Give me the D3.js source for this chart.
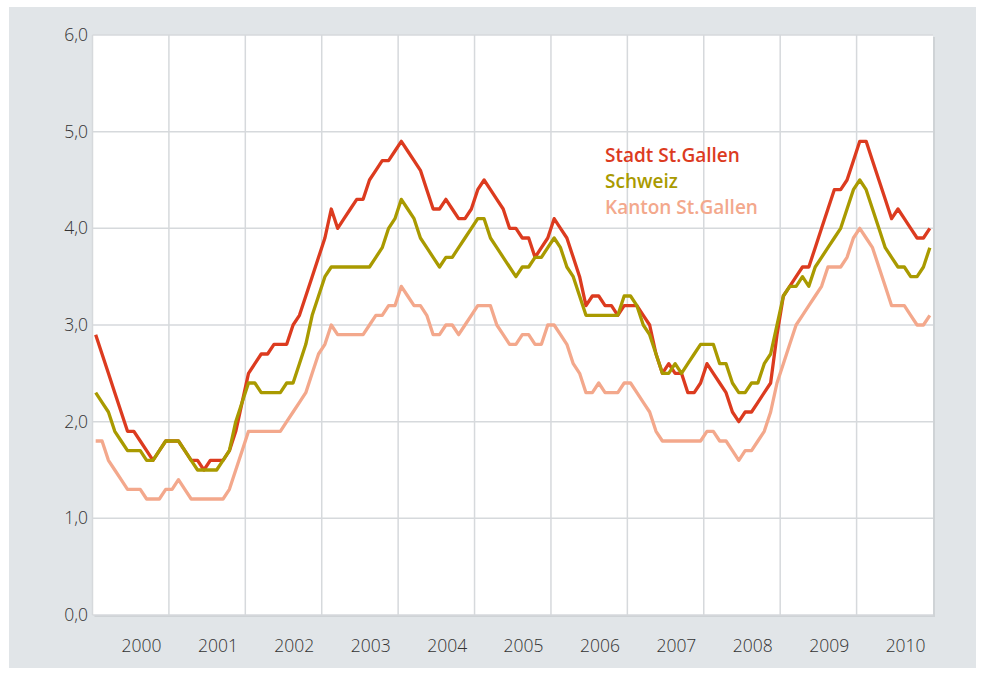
<!DOCTYPE html>
<html lang="de">
<head>
<meta charset="UTF-8">
<title>Arbeitslosenquote St.Gallen</title>
<script src="https://d3js.org/d3.v7.min.js"></script>
<style>
  body { margin: 0; background: #fff; }
  svg text { font-family: "Open Sans", "Noto Sans", sans-serif; }
</style>
</head>
<body>
<div id="chart"></div>
<script>
// Monthly values, January 2000 to December 2010
const years = [2000, 2001, 2002, 2003, 2004, 2005, 2006, 2007, 2008, 2009, 2010];

const stadt = [
  2.9, 2.7, 2.5, 2.3, 2.1, 1.9, 1.9, 1.8, 1.7, 1.6, 1.7, 1.8,
  1.8, 1.8, 1.7, 1.6, 1.6, 1.5, 1.6, 1.6, 1.6, 1.7, 1.9, 2.2,
  2.5, 2.6, 2.7, 2.7, 2.8, 2.8, 2.8, 3.0, 3.1, 3.3, 3.5, 3.7,
  3.9, 4.2, 4.0, 4.1, 4.2, 4.3, 4.3, 4.5, 4.6, 4.7, 4.7, 4.8,
  4.9, 4.8, 4.7, 4.6, 4.4, 4.2, 4.2, 4.3, 4.2, 4.1, 4.1, 4.2,
  4.4, 4.5, 4.4, 4.3, 4.2, 4.0, 4.0, 3.9, 3.9, 3.7, 3.8, 3.9,
  4.1, 4.0, 3.9, 3.7, 3.5, 3.2, 3.3, 3.3, 3.2, 3.2, 3.1, 3.2,
  3.2, 3.2, 3.1, 3.0, 2.7, 2.5, 2.6, 2.5, 2.5, 2.3, 2.3, 2.4,
  2.6, 2.5, 2.4, 2.3, 2.1, 2.0, 2.1, 2.1, 2.2, 2.3, 2.4, 2.9,
  3.3, 3.4, 3.5, 3.6, 3.6, 3.8, 4.0, 4.2, 4.4, 4.4, 4.5, 4.7,
  4.9, 4.9, 4.7, 4.5, 4.3, 4.1, 4.2, 4.1, 4.0, 3.9, 3.9, 4.0
];

const schweiz = [
  2.3, 2.2, 2.1, 1.9, 1.8, 1.7, 1.7, 1.7, 1.6, 1.6, 1.7, 1.8,
  1.8, 1.8, 1.7, 1.6, 1.5, 1.5, 1.5, 1.5, 1.6, 1.7, 2.0, 2.2,
  2.4, 2.4, 2.3, 2.3, 2.3, 2.3, 2.4, 2.4, 2.6, 2.8, 3.1, 3.3,
  3.5, 3.6, 3.6, 3.6, 3.6, 3.6, 3.6, 3.6, 3.7, 3.8, 4.0, 4.1,
  4.3, 4.2, 4.1, 3.9, 3.8, 3.7, 3.6, 3.7, 3.7, 3.8, 3.9, 4.0,
  4.1, 4.1, 3.9, 3.8, 3.7, 3.6, 3.5, 3.6, 3.6, 3.7, 3.7, 3.8,
  3.9, 3.8, 3.6, 3.5, 3.3, 3.1, 3.1, 3.1, 3.1, 3.1, 3.1, 3.3,
  3.3, 3.2, 3.0, 2.9, 2.7, 2.5, 2.5, 2.6, 2.5, 2.6, 2.7, 2.8,
  2.8, 2.8, 2.6, 2.6, 2.4, 2.3, 2.3, 2.4, 2.4, 2.6, 2.7, 3.0,
  3.3, 3.4, 3.4, 3.5, 3.4, 3.6, 3.7, 3.8, 3.9, 4.0, 4.2, 4.4,
  4.5, 4.4, 4.2, 4.0, 3.8, 3.7, 3.6, 3.6, 3.5, 3.5, 3.6, 3.8
];

const kanton = [
  1.8, 1.8, 1.6, 1.5, 1.4, 1.3, 1.3, 1.3, 1.2, 1.2, 1.2, 1.3,
  1.3, 1.4, 1.3, 1.2, 1.2, 1.2, 1.2, 1.2, 1.2, 1.3, 1.5, 1.7,
  1.9, 1.9, 1.9, 1.9, 1.9, 1.9, 2.0, 2.1, 2.2, 2.3, 2.5, 2.7,
  2.8, 3.0, 2.9, 2.9, 2.9, 2.9, 2.9, 3.0, 3.1, 3.1, 3.2, 3.2,
  3.4, 3.3, 3.2, 3.2, 3.1, 2.9, 2.9, 3.0, 3.0, 2.9, 3.0, 3.1,
  3.2, 3.2, 3.2, 3.0, 2.9, 2.8, 2.8, 2.9, 2.9, 2.8, 2.8, 3.0,
  3.0, 2.9, 2.8, 2.6, 2.5, 2.3, 2.3, 2.4, 2.3, 2.3, 2.3, 2.4,
  2.4, 2.3, 2.2, 2.1, 1.9, 1.8, 1.8, 1.8, 1.8, 1.8, 1.8, 1.8,
  1.9, 1.9, 1.8, 1.8, 1.7, 1.6, 1.7, 1.7, 1.8, 1.9, 2.1, 2.4,
  2.6, 2.8, 3.0, 3.1, 3.2, 3.3, 3.4, 3.6, 3.6, 3.6, 3.7, 3.9,
  4.0, 3.9, 3.8, 3.6, 3.4, 3.2, 3.2, 3.2, 3.1, 3.0, 3.0, 3.1
];

const yTicks = [0, 1, 2, 3, 4, 5, 6];
const seriesNames = ["Stadt St.Gallen", "Schweiz", "Kanton St.Gallen"];

// chart setup
const width = 984, height = 675;
const plot = { left: 92.5, right: 933, top: 35, bottom: 615 };

const color = d3.scaleOrdinal()
  .domain(seriesNames)
  .range(["#dc3b1f", "#a99a00", "#f3a88c"]);

const x = d3.scaleLinear().domain([0, years.length * 12]).range([plot.left, plot.right]);
const y = d3.scaleLinear().domain([0, 6]).range([plot.bottom, plot.top]);

const fmt = d3.formatLocale({ decimal: ",", thousands: "'", grouping: [3], currency: ["", ""] }).format(".1f");

const svg = d3.select("#chart").append("svg")
  .attr("width", width)
  .attr("height", height);

svg.append("rect")
  .attr("x", 9).attr("y", 7)
  .attr("width", 967).attr("height", 661)
  .attr("fill", "#e1e5e8");

// plot area with a soft edge at bottom/right
svg.append("rect")
  .attr("x", plot.left + 2).attr("y", plot.top + 2)
  .attr("width", plot.right - plot.left).attr("height", plot.bottom - plot.top)
  .attr("fill", "#cfd3d6");
svg.append("rect")
  .attr("x", plot.left).attr("y", plot.top)
  .attr("width", plot.right - plot.left).attr("height", plot.bottom - plot.top)
  .attr("fill", "#fff");

// gridlines
svg.append("g").selectAll("line")
  .data(yTicks)
  .join("line")
  .attr("x1", plot.left).attr("x2", plot.right)
  .attr("y1", d => y(d)).attr("y2", d => y(d))
  .attr("stroke", "#d6d9dc").attr("stroke-width", 1.5);

svg.append("g").selectAll("line")
  .data(years.map((yr, i) => i * 12))
  .join("line")
  .attr("x1", d => x(d)).attr("x2", d => x(d))
  .attr("y1", plot.top).attr("y2", plot.bottom)
  .attr("stroke", "#d6d9dc").attr("stroke-width", 1.5);

// axis labels
svg.append("g").selectAll("text")
  .data(yTicks)
  .join("text")
  .attr("x", 88)
  .attr("y", d => y(d))
  .attr("dy", "0.35em")
  .attr("text-anchor", "end")
  .attr("font-size", 17.5)
  .attr("font-weight", 300)
  .attr("fill", "#333")
  .text(d => fmt(d));

svg.append("g").selectAll("text")
  .data(years)
  .join("text")
  .attr("x", (d, i) => x(i * 12 + 7.7))
  .attr("y", 646)
  .attr("dy", "0.35em")
  .attr("text-anchor", "middle")
  .attr("font-size", 17.5)
  .attr("font-weight", 300)
  .attr("fill", "#333")
  .text(d => d);

// lines
const line = d3.line()
  .x((d, i) => x(i + 0.5))
  .y(d => y(d));

const series = [
  { name: "Kanton St.Gallen", values: kanton },
  { name: "Stadt St.Gallen", values: stadt },
  { name: "Schweiz", values: schweiz }
];

svg.append("g").selectAll("path")
  .data(series)
  .join("path")
  .attr("d", d => line(d.values))
  .attr("fill", "none")
  .attr("stroke", d => color(d.name))
  .attr("stroke-width", 3.3)
  .attr("stroke-linejoin", "round");

// legend
svg.append("g").selectAll("text")
  .data(seriesNames)
  .join("text")
  .attr("x", 605)
  .attr("y", (d, i) => 155 + i * 26)
  .attr("dy", "0.35em")
  .attr("font-size", 19)
  .attr("font-weight", 600)
  .attr("fill", d => color(d))
  .text(d => d);
</script>
</body>
</html>
